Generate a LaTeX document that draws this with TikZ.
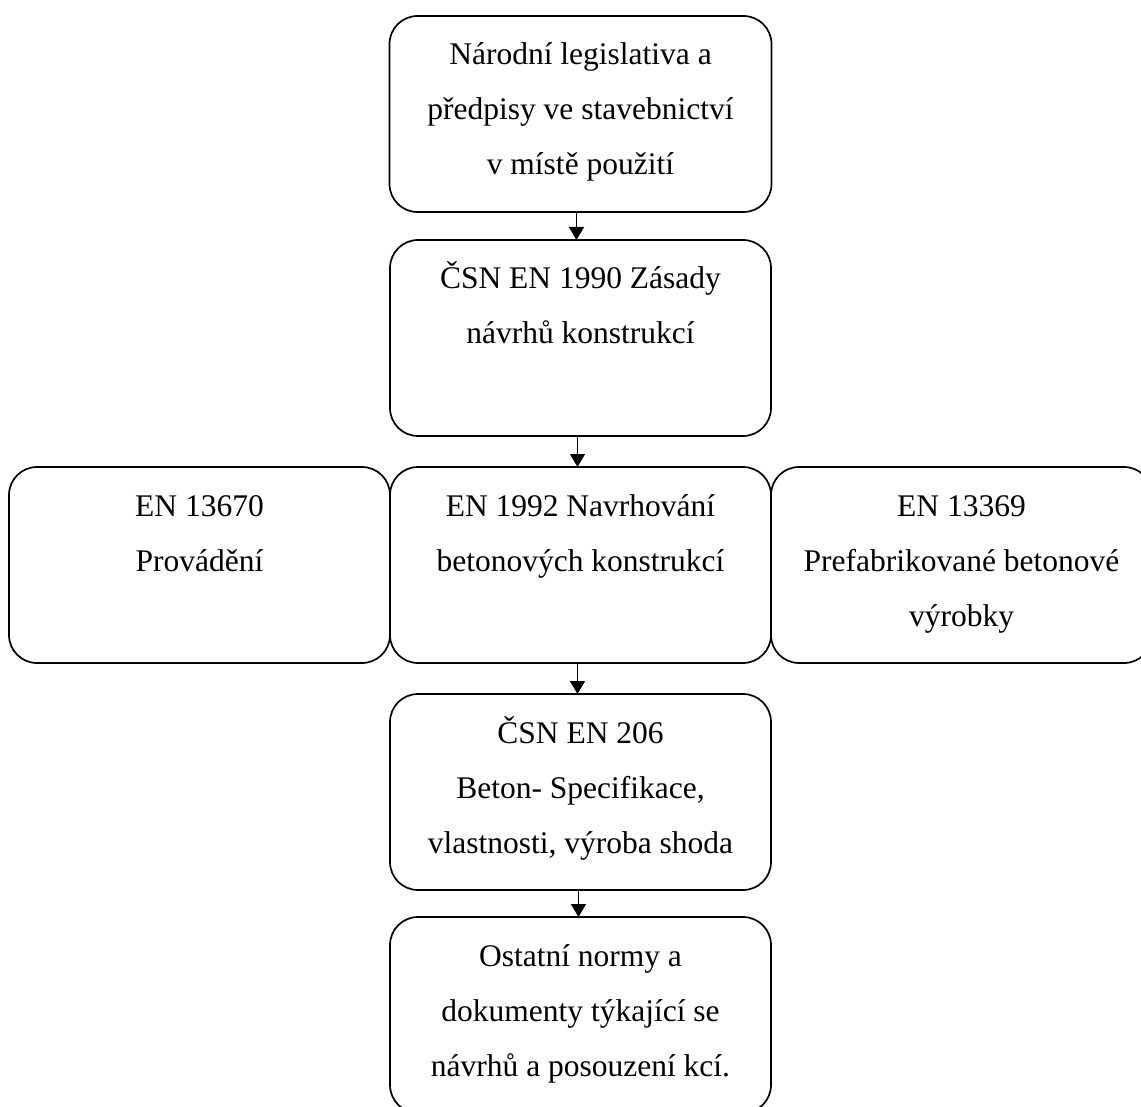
\documentclass[tikz,border=0pt]{standalone}
\usepackage{fontspec}
\setmainfont{Liberation Serif}
\usetikzlibrary{arrows.meta}
\tikzset{
  normbox/.style={draw=black, line width=1.7pt, rounded corners=28pt, inner sep=0pt, outer sep=0pt},
  flowarrow/.style={line width=1.4pt, -{Triangle[length=13pt,width=15pt]}}
}
\newcommand{\boxtext}[2]{\parbox[c][196pt][t]{#1}{\centering\fontsize{31.5}{55}\selectfont\rule{0pt}{49pt}#2\par}}
\begin{document}
\begin{tikzpicture}[x=1pt,y=-1pt]
\useasboundingbox (0,0) rectangle (1141,1107);
\node[normbox] (b1) at (580.5,114) {\boxtext{382pt}{Národní legislativa a\\ předpisy ve stavebnictví\\ v místě použití}};
\node[normbox] (b2) at (580.5,338) {\boxtext{381pt}{ČSN EN 1990 Zásady\\ návrhů konstrukcí}};
\node[normbox] (b3) at (580.5,565) {\boxtext{381pt}{EN 1992 Navrhování\\ betonových konstrukcí}};
\node[normbox] (b3l) at (199.5,565) {\boxtext{381pt}{EN 13670\\ Provádění}};
\node[normbox] (b3r) at (961.5,565) {\boxtext{381pt}{EN 13369\\ Prefabrikované betonové\\ výrobky}};
\node[normbox] (b4) at (580.5,792) {\boxtext{381pt}{ČSN EN 206\\ Beton- Specifikace,\\ vlastnosti, výroba shoda}};
\node[normbox] (b5) at (580.5,1015) {\boxtext{381pt}{Ostatní normy a\\ dokumenty týkající se\\ návrhů a posouzení kcí.}};
\draw[flowarrow] ([xshift=-4pt]b1.south) -- ([xshift=-4pt]b2.north);
\draw[flowarrow] ([xshift=-3pt]b2.south) -- ([xshift=-3pt]b3.north);
\draw[flowarrow] ([xshift=-3pt]b3.south) -- ([xshift=-3pt]b4.north);
\draw[flowarrow] ([xshift=-2pt]b4.south) -- ([xshift=-2pt]b5.north);
\end{tikzpicture}
\end{document}
